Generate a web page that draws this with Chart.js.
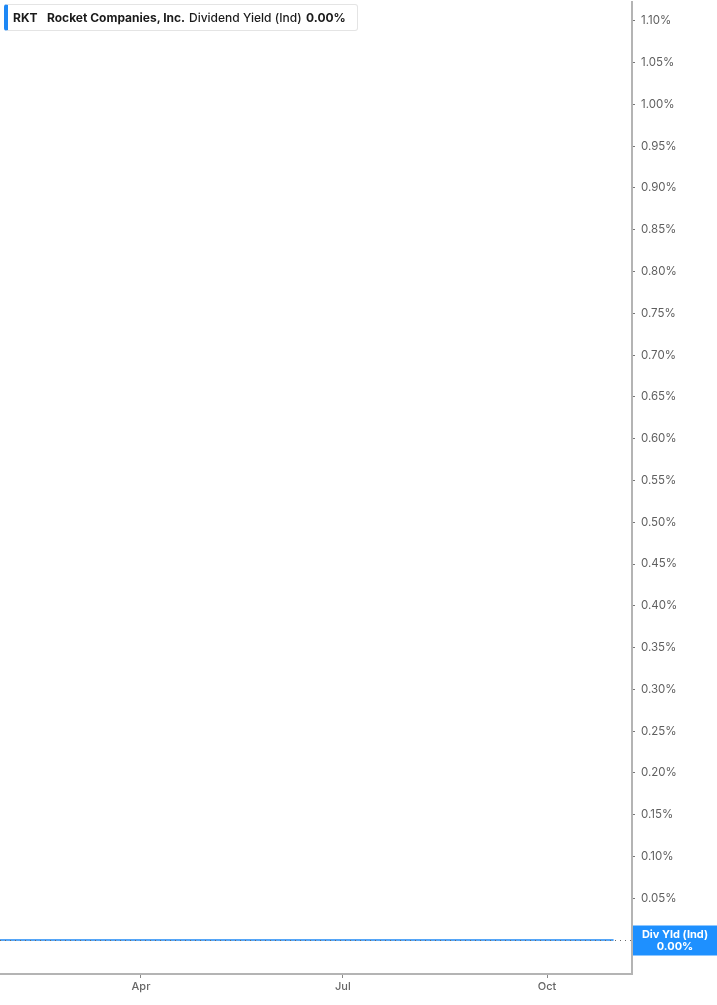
<!DOCTYPE html>
<html>
<head>
<meta charset="utf-8">
<script src="https://cdn.jsdelivr.net/npm/chart.js@4"></script>
<style>
  html, body { margin: 0; padding: 0; background: #fff; overflow: hidden; }
  #wrap { position: relative; width: 717px; height: 1005px; overflow: hidden; }
  #chart { position: absolute; left: 0; top: -11px; }
  #legend {
    position: absolute; left: 4px; top: 4px; width: 349px; height: 25px;
    border: 1px solid #e4e4e4; border-left: 4px solid #1e88f5; border-radius: 3px;
    background: #fff; font-family: Inter, "Noto Sans", sans-serif; font-size: 12px;
    color: #1b1b1b; line-height: 25px; box-sizing: content-box;
  }
  #legend span { position: absolute; top: 0; white-space: nowrap; }
</style>
</head>
<body>
<div id="wrap">
  <canvas id="chart" width="717" height="1016"></canvas>
  <div id="legend">
    <span style="left:5px;font-weight:700">RKT</span>
    <span style="left:39px;font-weight:700">Rocket Companies, Inc.</span>
    <span style="left:181px;font-weight:500">Dividend Yield (Ind)</span>
    <span style="left:298px;font-weight:700">0.00%</span>
  </div>
</div>
<script>
// day of year (non-leap), dividend yield in %
const days = [20, 31, 59, 90, 120, 151, 181, 212, 243, 273, 303];
const yieldPct = [0, 0, 0, 0, 0, 0, 0, 0, 0, 0, 0];

const monthTicks = [90, 181, 273];
const monthLabels = ['Apr', 'Jul', 'Oct'];

const yTicks = [0.05, 0.10, 0.15, 0.20, 0.25, 0.30, 0.35, 0.40, 0.45, 0.50, 0.55,
  0.60, 0.65, 0.70, 0.75, 0.80, 0.85, 0.90, 0.95, 1.00, 1.05, 1.10];

const seriesName = 'Div Yld (Ind)';
const lineColor = '#1e88f5';

// dotted last-value line + blue value box on the right axis
const lastValuePlugin = {
  id: 'lastValue',
  afterDraw(chart) {
    const { ctx, chartArea, scales } = chart;
    const last = yieldPct[yieldPct.length - 1];
    const y = Math.round(scales.y.getPixelForValue(last)) + 0.5;

    ctx.save();
    ctx.strokeStyle = '#6a6a6a';
    ctx.lineWidth = 1;
    ctx.setLineDash([1, 4]);
    ctx.beginPath();
    ctx.moveTo(chartArea.left, y);
    ctx.lineTo(chartArea.right, y);
    ctx.stroke();
    ctx.setLineDash([]);

    const bx = chartArea.right + 1, bw = chart.width - bx, bh = 30;
    ctx.fillStyle = '#1e90ff';
    ctx.fillRect(bx, y - bh / 2, bw, bh);
    ctx.fillStyle = '#fff';
    ctx.font = '700 11px Inter, "Noto Sans", sans-serif';
    ctx.textAlign = 'center';
    ctx.textBaseline = 'middle';
    ctx.fillText(seriesName, bx + bw / 2, y - 6);
    ctx.fillText(last.toFixed(2) + '%', bx + bw / 2, y + 6);
    ctx.restore();
  }
};

new Chart(document.getElementById('chart'), {
  type: 'line',
  data: {
    datasets: [{
      label: seriesName,
      data: days.map((d, i) => ({ x: d, y: yieldPct[i] })),
      borderColor: lineColor,
      borderWidth: 1.5,
      pointRadius: 0,
      tension: 0
    }]
  },
  options: {
    responsive: false,
    animation: false,
    layout: { padding: 0 },
    plugins: { legend: { display: false }, tooltip: { enabled: false } },
    scales: {
      x: {
        type: 'linear',
        min: 26.45,
        max: 311.3,
        afterBuildTicks: s => { s.ticks = monthTicks.map(v => ({ value: v })); },
        afterFit: s => { s.height = 31; },
        ticks: {
          autoSkip: false,
          maxRotation: 0,
          padding: 2,
          color: '#666',
          font: { family: 'Inter', size: 11, weight: '500' },
          callback: v => monthLabels[monthTicks.indexOf(v)]
        },
        grid: { drawOnChartArea: false, drawTicks: true, tickLength: 4, tickColor: '#888' },
        border: { display: true, color: '#b4b4b4', width: 2 }
      },
      y: {
        position: 'right',
        min: -0.0406,
        max: 1.1227,
        afterBuildTicks: s => { s.ticks = yTicks.map(v => ({ value: v })); },
        afterFit: s => { s.width = 85; },
        ticks: {
          autoSkip: false,
          padding: 6,
          color: '#5f5f5f',
          font: { family: 'Inter', size: 11.5 },
          callback: v => v.toFixed(2) + '%'
        },
        grid: { drawOnChartArea: false, drawTicks: true, tickLength: 3, tickColor: '#777' },
        border: { display: true, color: '#b4b4b4', width: 2 }
      }
    }
  },
  plugins: [lastValuePlugin]
});
</script>
</body>
</html>
